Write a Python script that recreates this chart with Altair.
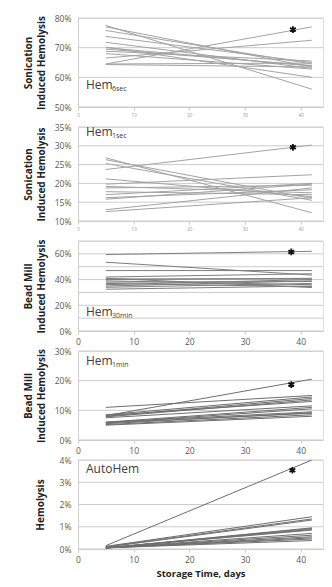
import altair as alt
import pandas as pd

# ---------------- data ----------------
days = [5, 42]

p1_start = [64.5, 66.5, 77.5, 77.0, 75.8, 73.8, 71.8, 70.2, 69.5, 68.8, 68.0, 64.3, 64.5, 70.0]
p1_end   = [77.0, 72.5, 56.0, 63.5, 64.5, 65.0, 63.0, 60.0, 64.0, 65.5, 62.8, 63.5, 64.8, 63.8]

p2_start = [23.7, 26.8, 26.3, 25.3, 21.2, 19.8, 19.2, 18.8, 17.0, 16.2, 15.8, 13.0, 12.5, 17.8]
p2_end   = [30.2, 12.2, 16.0, 15.5, 16.5, 22.3, 17.5, 19.5, 20.0, 18.3, 19.8, 18.8, 16.2, 17.0]

p3_start = [59.5, 53.5, 47.0, 42.0, 40.5, 40.0, 39.0, 38.0, 37.0, 35.0, 34.0, 32.5, 41.0, 36.0]
p3_end   = [62.0, 43.5, 47.0, 44.5, 40.5, 41.0, 36.0, 38.5, 34.5, 39.0, 37.0, 35.0, 33.8, 40.0]

p4_start = [8.2, 11.0, 8.5, 8.0, 7.8, 8.3, 7.5, 6.0, 5.8, 6.0, 5.5, 5.8, 5.2, 5.0]
p4_end   = [20.5, 15.0, 14.5, 14.0, 13.5, 13.0, 11.5, 11.0, 10.5, 9.5, 9.2, 9.0, 8.5, 8.0]

p5_start = [0.15, 0.12, 0.10, 0.08, 0.05, 0.05, 0.05, 0.05, 0.05, 0.05, 0.05, 0.05, 0.05, 0.05]
p5_end   = [4.00, 1.45, 1.35, 1.30, 0.95, 0.92, 0.88, 0.85, 0.70, 0.62, 0.55, 0.45, 0.38, 0.50]

star_days   = [38.6, 38.6, 38.3, 38.3, 38.5]
star_values = [76.1, 29.6, 61.5, 18.7, 3.54]

y_domains = [[50, 80], [10, 35], [0, 70], [0, 30], [0, 4]]
y_ticks = [[50, 60, 70, 80], [10, 15, 20, 25, 30, 35],
           [0, 10, 20, 30, 40, 50, 60, 70], [0, 10, 20, 30], [0, 1, 2, 3, 4]]
y_titles = [["Sonication", "Induced Hemolysis"], ["Sonication", "Induced Hemolysis"],
            ["Bead Mill", "Induced Hemolysis"], ["Bead Mill", "Induced Hemolysis"],
            ["Hemolysis"]]
x_ticks = [0, 10, 20, 30, 40]

labels_main = ["Hem", "Hem", "Hem", "Hem", "AutoHem"]
labels_sub = ["6sec", "1sec", "30min", "1min", ""]

starts = [p1_start, p2_start, p3_start, p4_start, p5_start]
ends = [p1_end, p2_end, p3_end, p4_end, p5_end]

# ---------------- layout/style ----------------
heights = [89, 94, 90, 89, 89]
W = 245
FONT = "Open Sans"
label_y = [71, 9, 75, 14, 13]
title_x = [-55, -55, -55, -55, -43]
line_colors = ["#a3a3a3", "#a3a3a3", "#7d7d7d", "#6e6e6e", "#6e6e6e"]


def make_panel(i):
    h = heights[i]
    rows = []
    for j, (s, e) in enumerate(zip(starts[i], ends[i])):
        rows.append({"id": j, "day": days[0], "v": s / 100})
        rows.append({"id": j, "day": days[1], "v": e / 100})
    df = pd.DataFrame(rows)
    d0, d1 = y_domains[i]
    last = i == 4
    small_x = i < 2

    if i == 2:
        lab_expr = "round(datum.value*100) % 20 == 0 ? format(datum.value, '.0%') : ''"
    else:
        lab_expr = "format(datum.value, '.0%')"

    yaxis = alt.Axis(
        values=[t / 100 for t in y_ticks[i]],
        labelExpr=lab_expr, labelOverlap=False, labelBound=False, labelFlush=False,
        grid=False,
        domainColor="#cfcfcf", ticks=False,
        labelPadding=7, labelFontSize=8.5, labelColor="#595959", labelFont=FONT,
        title=y_titles[i], titleFont=FONT, titleFontSize=10, titleFontWeight="bold",
        titleColor="#222222", titleLineHeight=13,
        titleX=title_x[i], titleY=h / 2, titleAngle=270,
        titleBaseline="top", titleAlign="center",
    )
    xaxis = alt.Axis(
        values=x_ticks, format="d", grid=False, labelOverlap=False,
        labelFlush=False, labelBound=False,
        domainColor="#cfcfcf", tickColor="#cfcfcf", tickSize=3,
        labelFontSize=4.5 if small_x else 8.5,
        labelColor="#9a9a9a" if small_x else "#595959",
        labelFont=FONT, labelPadding=2 if small_x else 3,
        title="Storage Time, days" if last else None,
        titleFont=FONT, titleFontSize=9.5, titleFontWeight="bold",
        titleColor="#222222", titlePadding=5,
    )
    xs = alt.Scale(domain=[0, 44], nice=False)
    ys = alt.Scale(domain=[d0 / 100, d1 / 100], nice=False, zero=False)

    gdf = pd.DataFrame({"v": [t / 100 for t in y_ticks[i]]})
    grid = alt.Chart(gdf).mark_rule(color="#cccccc", strokeWidth=1).encode(
        y=alt.Y("v:Q", scale=ys, axis=yaxis),
        x=alt.value(0), x2=alt.value(W),
    )

    lines = alt.Chart(df).mark_line(strokeWidth=1, color=line_colors[i], clip=True).encode(
        x=alt.X("day:Q", scale=xs, axis=xaxis),
        y=alt.Y("v:Q", scale=ys, axis=yaxis),
        detail="id:N",
    )
    sdf = pd.DataFrame({"day": [star_days[i]], "v": [star_values[i] / 100]})
    star = alt.Chart(sdf).mark_point(
        shape="M0,-1L0,1M-0.87,-0.5L0.87,0.5M-0.87,0.5L0.87,-0.5",
        filled=False, stroke="#111111", strokeWidth=1.8, size=45, opacity=1,
    ).encode(x=alt.X("day:Q", scale=xs, axis=xaxis), y=alt.Y("v:Q", scale=ys, axis=yaxis))

    ldf = pd.DataFrame({"t": [labels_main[i]], "s": [labels_sub[i]]})
    lab = alt.Chart(ldf).mark_text(
        align="left", baseline="alphabetic", font=FONT, fontSize=12, color="#404040"
    ).encode(x=alt.value(8), y=alt.value(label_y[i]), text="t:N")
    layers = [grid, lines, star, lab]
    if labels_sub[i]:
        sub = alt.Chart(ldf).mark_text(
            align="left", baseline="alphabetic", font=FONT, fontSize=7, color="#404040"
        ).encode(x=alt.value(34), y=alt.value(label_y[i] + 2), text="s:N")
        layers.append(sub)
    return alt.layer(*layers).properties(width=W, height=h)


chart = alt.vconcat(*[make_panel(i) for i in range(5)], spacing=20, bounds="flush").properties(
    padding={"left": 22, "top": 13, "right": 5, "bottom": 5},
).configure_view(strokeWidth=0).configure(background="white")

chart.save("out.html", embed_options={"renderer": "svg", "actions": False})
